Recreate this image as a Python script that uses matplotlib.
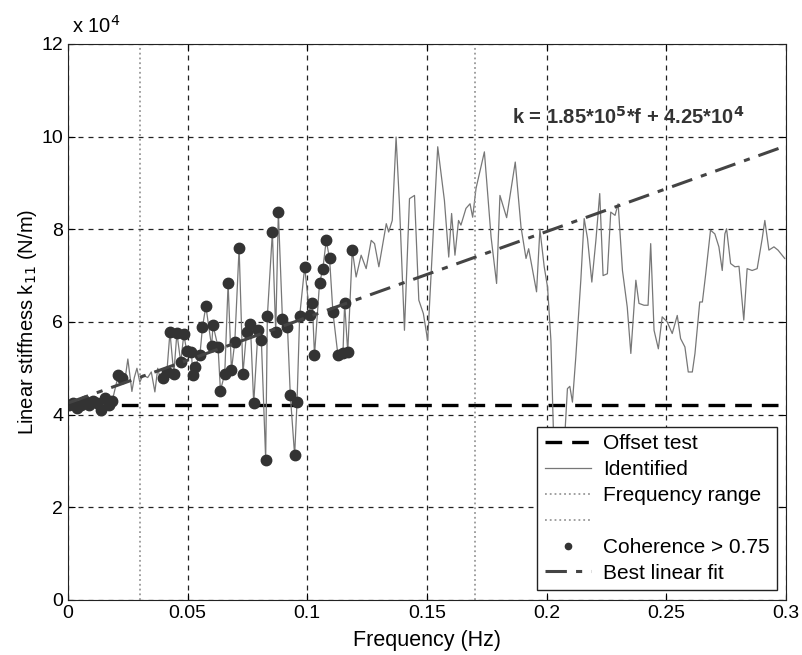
import numpy as np
import matplotlib
matplotlib.use('Agg')
from matplotlib import pyplot as plt

plt.rcParams['font.family'] = ['Liberation Sans', 'DejaVu Sans']

# identified stiffness k11, frequency in Hz, stiffness in 1e4 N/m
freq = [0.0005, 0.0022, 0.0038, 0.0055, 0.0072, 0.0088, 0.0105, 0.0122, 0.0138, 0.0155, 0.017, 0.0185,
        0.021, 0.0225,
        0.0238, 0.025, 0.0267, 0.0277, 0.0288, 0.030, 0.0313, 0.0333, 0.0348, 0.0363, 0.0375, 0.0385,
        0.0396, 0.0413, 0.0426, 0.0442, 0.0455, 0.0471, 0.0484, 0.0496, 0.0516, 0.0521, 0.053, 0.0551,
        0.0562, 0.0576, 0.060, 0.0606, 0.0627, 0.0637, 0.0655, 0.0669, 0.0683, 0.0697, 0.0715, 0.0731,
        0.0746, 0.0762, 0.0776, 0.0794, 0.0808, 0.0826, 0.0833, 0.0854, 0.0868, 0.0879, 0.0896, 0.0917,
        0.0929, 0.0947, 0.0957, 0.0968, 0.0989, 0.101, 0.1021, 0.103, 0.1051, 0.1065, 0.1079, 0.1093,
        0.1107, 0.1128, 0.1149, 0.1156, 0.1169, 0.1188,
        0.1204, 0.1225, 0.1246, 0.1267, 0.1281, 0.1299, 0.1318, 0.133, 0.134, 0.1355, 0.1371, 0.1385,
        0.1406, 0.1427, 0.1448, 0.1466, 0.1485, 0.1503, 0.1545, 0.1573, 0.1591, 0.1603, 0.1617, 0.1632,
        0.1642, 0.1663, 0.168, 0.1691, 0.1705, 0.174, 0.1768, 0.1791, 0.1805, 0.1833, 0.1869, 0.1893,
        0.1914, 0.1925, 0.1958, 0.1972, 0.199, 0.2004, 0.2018, 0.2028, 0.2045, 0.2065, 0.2078, 0.2087,
        0.2097, 0.2108, 0.2122, 0.2143, 0.2157, 0.2171, 0.2189, 0.2206, 0.2222, 0.2236, 0.2254, 0.2268,
        0.2286, 0.2299, 0.2317, 0.2337, 0.2352, 0.2373, 0.2386, 0.2407, 0.2424, 0.2435, 0.2449, 0.2467,
        0.2483, 0.2504, 0.2525, 0.2546, 0.256, 0.2578, 0.2592, 0.2609, 0.262, 0.264, 0.2651, 0.2665,
        0.2685, 0.2703, 0.272, 0.2734, 0.2745, 0.2752, 0.2769, 0.2787, 0.2804, 0.2824, 0.2838, 0.2859,
        0.288, 0.2901, 0.2912, 0.2929, 0.295, 0.2967, 0.2995]
k11 = [4.2, 4.25, 4.15, 4.2, 4.3, 4.2, 4.3, 4.25, 4.1, 4.35, 4.2, 4.3,
       4.85, 4.8,
       4.75, 5.2, 4.5, 4.8, 5.0, 4.7, 4.85, 4.8, 4.92, 4.49, 5.0, 4.78,
       4.8, 4.91, 5.78, 4.87, 5.76, 5.13, 5.73, 5.37, 5.35, 4.85, 5.03, 5.28,
       5.89, 6.34, 5.47, 5.93, 5.46, 4.52, 4.88, 6.83, 4.96, 5.57, 7.6, 4.88,
       5.78, 5.96, 4.24, 5.82, 5.6, 3.03, 6.12, 7.93, 5.78, 8.37, 6.07, 5.9,
       4.42, 3.12, 4.27, 6.12, 7.19, 6.14, 6.4, 5.28, 6.83, 7.15, 7.76, 7.37,
       6.21, 5.28, 5.32, 6.41, 5.35, 7.55,
       6.97, 7.44, 7.15, 7.76, 7.69, 7.19, 7.76, 8.12, 7.94, 8.19, 9.99, 8.55,
       5.82, 8.66, 8.73, 6.47, 6.18, 5.6, 9.78, 8.62, 7.4, 8.34, 7.44, 8.19,
       8.09, 8.45, 8.55, 8.26, 8.88, 9.67, 7.83, 6.83, 8.73, 8.25, 9.45, 8.05,
       7.37, 7.58, 6.65, 8.0, 7.19, 6.75, 5.6, 3.73, 3.1, 3.2, 3.73, 4.56,
       4.61, 4.27, 5.24, 6.9, 8.23, 7.8, 6.86, 7.76, 8.77, 7.0, 7.04, 8.37,
       8.3, 8.55, 7.11, 6.32, 5.32, 6.9, 6.4, 6.36, 6.36, 7.69, 5.82, 5.42,
       6.11, 6.0, 5.75, 6.14, 5.64, 5.46, 4.92, 4.92, 5.32, 6.43, 6.43, 7.04,
       7.98, 7.9, 7.62, 7.11, 7.9, 8.01, 7.26, 7.19, 7.2, 6.04, 7.15, 7.11,
       7.15, 7.8, 8.19, 7.55, 7.62, 7.55, 7.37]
# points with coherence > 0.75: first 14 samples, then 0.0396 .. 0.1188 Hz
n_low = 14
coh_start, coh_end = 26, 80

offset_test = 4.2          # 1e4 N/m
freq_range = [0.03, 0.17]  # Hz
fit_slope = 1.85e5         # N/m per Hz
fit_icpt = 4.25e4          # N/m

freq = np.array(freq)
k11 = np.array(k11)
coh = np.zeros(len(freq), dtype=bool)
coh[:n_low] = True
coh[coh_start:coh_end] = True

fig = plt.figure(figsize=(8.03, 6.55), dpi=100)
ax = fig.add_axes([0.0847, 0.084, 0.894, 0.849])

ax.set_xlim(0, 0.3)
ax.set_ylim(0, 12)
ax.set_xticks([0, 0.05, 0.1, 0.15, 0.2, 0.25, 0.3])
ax.set_xticklabels(['0', '0.05', '0.1', '0.15', '0.2', '0.25', '0.3'])
ax.set_yticks(range(0, 13, 2))
ax.tick_params(direction='in', top=True, right=True, labelsize=14, length=5)
ax.grid(True, color='#222222', linestyle=(0, (4, 4)), linewidth=0.9)
for s in ax.spines.values():
    s.set_color('#222222')

h_off, = ax.plot([0, 0.3], [offset_test, offset_test], color='black', linestyle=(0, (5, 3)),
                 linewidth=2.4, label='Offset test')
h_id, = ax.plot(freq, k11, color='#777777', linewidth=0.9, label='Identified')
h_fr1 = ax.axvline(freq_range[0], color='#999999', linestyle=':', linewidth=1.3, label='Frequency range')
h_fr2 = ax.axvline(freq_range[1], color='#999999', linestyle=':', linewidth=1.3, label=' ')
h_coh, = ax.plot(freq[coh], k11[coh], linestyle='none', marker='o', markersize=7.5,
                 color='#333333', label='Coherence > 0.75')
fx = np.array([0, 0.3])
h_fit, = ax.plot(fx, (fit_slope * fx + fit_icpt) / 1e4, color='#444444',
                 linestyle=(0, (7, 3, 2, 3)), linewidth=2.2, label='Best linear fit')

ax.text(0.1857, 10.42, r'k = 1.85*10$^{\mathbf{5}}$*f + 4.25*10$^{\mathbf{4}}$',
        fontsize=14.5, fontweight='bold', color='#333333', va='center')

ax.text(0.005, 1.012, r'x 10$^{4}$', transform=ax.transAxes, fontsize=14.5, va='bottom', ha='left')
ax.set_xlabel('Frequency (Hz)', fontsize=15.5, labelpad=6)
ax.set_ylabel('Linear stiffness k$_{11}$ (N/m)', fontsize=14.5, labelpad=2)

leg = ax.legend(handles=[h_off, h_id, h_fr1, h_fr2, h_coh, h_fit], loc='lower right',
                bbox_to_anchor=(0.9875, 0.018), borderaxespad=0, fontsize=15, frameon=True,
                fancybox=False, edgecolor='#222222', framealpha=1, labelspacing=0.33,
                handlelength=2.2, handletextpad=0.6, borderpad=0.35, markerscale=0.6)
leg.get_frame().set_linewidth(1.0)

fig.savefig('out.png', dpi=100)
